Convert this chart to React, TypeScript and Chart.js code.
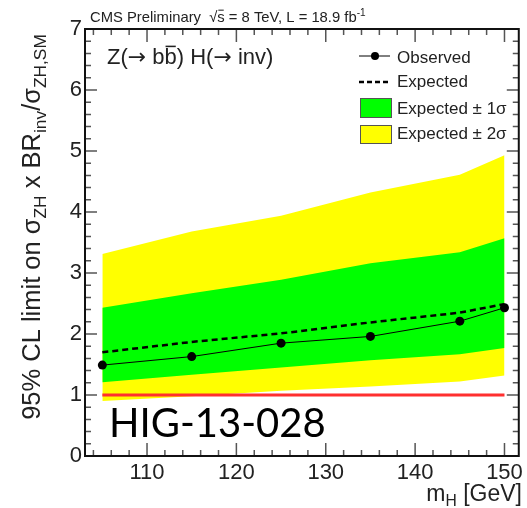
import React, { useEffect, useRef } from 'react';
import { Chart, registerables } from 'chart.js';

Chart.register(...registerables);

// ---- data ----
const massPoints = [105, 115, 125, 135, 145, 150];
const observedLimit = [1.49, 1.63, 1.85, 1.96, 2.21, 2.43];
const expectedLimit = [1.70, 1.87, 2.01, 2.19, 2.35, 2.49];
const expectedPlus1 = [2.43, 2.67, 2.89, 3.16, 3.34, 3.57];
const expectedMinus1 = [1.21, 1.33, 1.45, 1.57, 1.67, 1.77];
const expectedPlus2 = [3.31, 3.68, 3.94, 4.32, 4.61, 4.93];
const expectedMinus2 = [0.90, 0.98, 1.07, 1.14, 1.22, 1.32];
const smMass = [105, 150];
const smLevel = [1, 1];
const xTickValues = [110, 120, 130, 140, 150];
const yTickValues = [0, 1, 2, 3, 4, 5, 6, 7];
const legendLabels = ['Observed', 'Expected', 'Expected \u00b1 1\u03c3', 'Expected \u00b1 2\u03c3'];
const headerText = 'CMS Preliminary';
const analysisLabel = 'HIG-13-028';

const FONT = '"Liberation Sans", Arial, sans-serif';
const ARROW_FONT = '"DejaVu Sans", sans-serif';

type Part = [string, 'n' | 'sub' | 'sup' | 'over' | 'arr'];

function partFont(k: string, size: number) {
  if (k === 'sub' || k === 'sup') return `${size * 0.68}px ${FONT}`;
  if (k === 'arr') return `${size}px ${ARROW_FONT}`;
  return `${size}px ${FONT}`;
}

function drawRich(ctx: CanvasRenderingContext2D, parts: Part[], x: number, y: number, size: number, align: 'left' | 'center' | 'right') {
  const widths = parts.map(([t, k]) => {
    ctx.font = partFont(k, size);
    return ctx.measureText(t).width;
  });
  const total = widths.reduce((a, b) => a + b, 0);
  let cx = align === 'left' ? x : align === 'center' ? x - total / 2 : x - total;
  ctx.textAlign = 'left';
  ctx.textBaseline = 'alphabetic';
  parts.forEach(([t, k], i) => {
    ctx.font = partFont(k, size);
    let dy = 0;
    if (k === 'sub') dy = size * 0.22;
    if (k === 'sup') dy = -size * 0.4;
    ctx.fillText(t, cx, y + dy);
    if (k === 'over') {
      ctx.save();
      ctx.lineWidth = Math.max(1, size * 0.07);
      ctx.strokeStyle = ctx.fillStyle as string;
      ctx.beginPath();
      const oy = y - size * 0.8;
      ctx.moveTo(cx + 1, oy);
      ctx.lineTo(cx + widths[i] - 1, oy);
      ctx.stroke();
      ctx.restore();
    }
    cx += widths[i];
  });
  return total;
}

const decorPlugin = {
  id: 'decor',
  afterDatasetsDraw(chart: any) {
    const { ctx, chartArea: a, scales } = chart;
    const x = scales.x;
    const y = scales.y;
    ctx.save();
    ctx.strokeStyle = '#555';
    ctx.lineWidth = 1.5;
    ctx.beginPath();
    for (let i = 0; i <= 35; i++) {
      const py = y.getPixelForValue(i * 0.2);
      const len = i % 5 === 0 ? 12 : 6;
      ctx.moveTo(a.left, py); ctx.lineTo(a.left + len, py);
      ctx.moveTo(a.right, py); ctx.lineTo(a.right - len, py);
    }
    for (let v = 104; v <= x.max; v += 2) {
      const px = x.getPixelForValue(v);
      const len = v % 10 === 0 ? 13 : 6;
      ctx.moveTo(px, a.bottom); ctx.lineTo(px, a.bottom - len);
      ctx.moveTo(px, a.top); ctx.lineTo(px, a.top + len);
    }
    ctx.stroke();
    ctx.strokeStyle = '#111';
    ctx.lineWidth = 2;
    ctx.strokeRect(a.left, a.top, a.right - a.left, a.bottom - a.top);
    ctx.restore();
  },
  afterDraw(chart: any) {
    const { ctx } = chart;
    ctx.save();
    ctx.fillStyle = '#222';
    // header
    drawRich(ctx, [[headerText + '  \u221a', 'n'], ['s', 'over'], [' = 8 TeV, L = 18.9 fb', 'n'], ['-1', 'sup']], 90, 22, 14.8, 'left');
    // process label
    drawRich(ctx, [['Z(', 'n'], ['\u2192', 'arr'], [' b', 'n'], ['b', 'over'], [') H(', 'n'], ['\u2192', 'arr'], [' inv)', 'n']], 107, 64, 22, 'left');
    // y title
    ctx.save();
    ctx.translate(40, 227);
    ctx.rotate(-Math.PI / 2);
    drawRich(ctx, [['95% CL limit on \u03c3', 'n'], ['ZH', 'sub'], [' x BR', 'n'], ['inv', 'sub'], ['/\u03c3', 'n'], ['ZH,SM', 'sub']], 0, 0, 25.5, 'center');
    ctx.restore();
    // x title
    drawRich(ctx, [['m', 'n'], ['H', 'sub'], [' [GeV]', 'n']], 522, 501, 23, 'right');
    // legend
    ctx.strokeStyle = '#000';
    ctx.lineWidth = 1;
    ctx.beginPath(); ctx.moveTo(359, 56); ctx.lineTo(390, 56); ctx.stroke();
    ctx.fillStyle = '#000';
    ctx.beginPath(); ctx.arc(375, 56, 4, 0, Math.PI * 2); ctx.fill();
    ctx.lineWidth = 2.5;
    ctx.setLineDash([5, 3]);
    ctx.beginPath(); ctx.moveTo(359, 82); ctx.lineTo(388, 82); ctx.stroke();
    ctx.setLineDash([]);
    ctx.lineWidth = 1;
    ctx.strokeStyle = '#555';
    ctx.fillStyle = '#00ff00';
    ctx.fillRect(360, 98, 31, 19); ctx.strokeRect(360.5, 98.5, 31, 19);
    ctx.fillStyle = '#ffff00';
    ctx.fillRect(360, 125, 31, 18); ctx.strokeRect(360.5, 125.5, 31, 18);
    ctx.fillStyle = '#222';
    ctx.font = `17px ${FONT}`;
    ctx.textAlign = 'left';
    ctx.textBaseline = 'alphabetic';
    const baselines = [62.5, 87, 114, 139];
    legendLabels.forEach((t, i) => ctx.fillText(t, 397, baselines[i]));
    // analysis label
    ctx.fillStyle = '#000';
    ctx.font = `40px Lato, "Open Sans", sans-serif`;
    ctx.fillText(analysisLabel, 109, 437);
    ctx.restore();
  },
};

const pts = (xs: number[], ys: number[]) => xs.map((v, i) => ({ x: v, y: ys[i] }));

export default function App() {
  const ref = useRef<HTMLCanvasElement | null>(null);
  useEffect(() => {
    if (!ref.current) return;
    const band = (data: number[], fill: any, color: string, order: number) => ({
      data: pts(massPoints, data),
      fill,
      backgroundColor: color,
      borderColor: 'rgba(0,0,0,0)',
      borderWidth: 0,
      pointRadius: 0,
      tension: 0,
      order,
    });
    const chart = new Chart(ref.current, {
      type: 'line',
      data: {
        datasets: [
          band(expectedPlus2, '+1', '#ffff00', 4) as any,
          band(expectedMinus2, false, '#ffff00', 4) as any,
          band(expectedPlus1, '+1', '#00ff00', 3) as any,
          band(expectedMinus1, false, '#00ff00', 3) as any,
          {
            data: pts(smMass, smLevel),
            borderColor: '#ff2f2f',
            borderWidth: 3,
            pointRadius: 0,
            fill: false,
            order: 2,
          },
          {
            data: pts(massPoints, expectedLimit),
            borderColor: '#000',
            borderWidth: 2.5,
            borderDash: [6, 4],
            pointRadius: 0,
            fill: false,
            order: 1,
          },
          {
            data: pts(massPoints, observedLimit),
            borderColor: '#000',
            borderWidth: 1,
            pointRadius: 4.5,
            pointBackgroundColor: '#000',
            pointBorderWidth: 0,
            fill: false,
            order: 0,
          },
        ],
      },
      options: {
        responsive: false,
        animation: false,
        devicePixelRatio: 1,
        layout: { padding: { top: 29, right: 5, left: 0, bottom: 0 } },
        plugins: { legend: { display: false }, tooltip: { enabled: false } },
        scales: {
          x: {
            type: 'linear',
            min: 103.06,
            max: 151.6,
            grid: { display: false, drawTicks: false },
            border: { display: false },
            afterBuildTicks: (axis: any) => { axis.ticks = xTickValues.map((v) => ({ value: v })); },
            afterFit: (axis: any) => { axis.height = 52; },
            ticks: {
              autoSkip: false,
              maxRotation: 0,
              padding: 4,
              color: '#222',
              font: { size: 22, family: FONT },
              callback: (v: any) => String(v),
            },
          },
          y: {
            type: 'linear',
            min: 0,
            max: 7,
            grid: { display: false, drawTicks: false },
            border: { display: false },
            afterBuildTicks: (axis: any) => { axis.ticks = yTickValues.map((v) => ({ value: v })); },
            afterFit: (axis: any) => { axis.width = 85; },
            ticks: {
              padding: 3,
              color: '#222',
              font: { size: 22, family: FONT },
              callback: (v: any) => String(v),
            },
          },
        },
      },
      plugins: [decorPlugin],
    } as any);
    return () => chart.destroy();
  }, []);
  return (
    <div style={{ position: 'fixed', left: 0, top: 0, width: 527, height: 508, background: '#fff' }}>
      <canvas ref={ref} width={527} height={508} style={{ display: 'block' }} />
    </div>
  );
}
